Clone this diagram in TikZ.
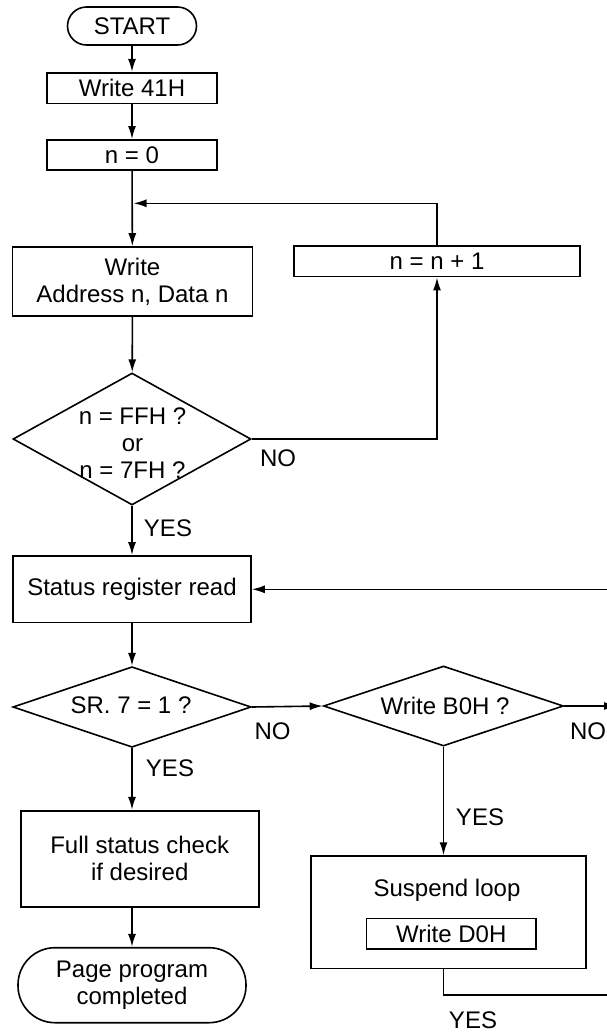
\documentclass[tikz,border=0pt]{standalone}
\usepackage{fontspec}
\setmainfont{Liberation Sans}
\usetikzlibrary{shapes.geometric,arrows.meta}
\begin{document}
\begin{tikzpicture}[x=1pt,y=-1pt,line width=1.6pt,
  every node/.style={font=\fontsize{24}{27}\selectfont},
  box/.style={draw,inner sep=0pt,align=center},
  dia/.style={draw,diamond,inner sep=0pt},
  flow/.style={-{Latex[length=13pt,width=8pt]}},
  lbl/.style={inner sep=0pt}]
\useasboundingbox (0,0) rectangle (606,1034);
% main column
\node[box,rounded corners=19pt,minimum width=129pt,minimum height=38pt] (start) at (132,26) {START};
\node[box,minimum width=170pt,minimum height=30.6pt] (w41) at (132,88) {Write 41H};
\node[box,minimum width=170pt,minimum height=30.3pt] (n0) at (132,155) {n = 0};
\node[box,minimum width=240pt,minimum height=69pt] (wad) at (132.5,281.5) {Write\\Address n, Data n};
\node[box,minimum width=286pt,minimum height=30.7pt] (inc) at (437,261.3) {n = n + 1};
\node[dia,minimum width=238pt,minimum height=132pt] (d1) at (132,439) {};
\node[align=center] (d1t) at (132.5,443) {n = FFH ?\\or\\n = 7FH ?};
\node[box,minimum width=238pt,minimum height=66.7pt] (srr) at (132,589.3) {Status register read};
\node[dia,minimum width=238.3pt,minimum height=80.6pt] (d2) at (132,707) {};
\node (d2t) at (131,705) {SR. 7 = 1 ?};
\node[dia,minimum width=240pt,minimum height=80pt] (d3) at (443.5,706) {};
\node (d3t) at (445,706) {Write B0H ?};
\node[box,minimum width=238pt,minimum height=96pt] (fsc) at (139.7,858.7) {Full status check\\if desired};
\node[box,rounded corners=37pt,minimum width=228pt,minimum height=75pt] (done) at (132,985.2) {Page program\\completed};
\node[box,minimum width=275pt,minimum height=112.3pt] (sus) at (448.5,912.2) {};
\node (sust) at (447,890) {Suspend loop};
\node[box,minimum width=169.3pt,minimum height=30.7pt] (wd0) at (451.3,933.7) {Write D0H};
% coordinates off the right edge and junction
\coordinate (j1) at (133.5,203.3);
\coordinate (e1) at (617,706);
\coordinate (e2) at (612,589.3);
\coordinate (e3) at (612,995);
% connectors
\draw[flow] (start) -- (w41);
\draw[flow] (w41) -- (n0);
\draw[flow] (n0) -- (wad);
\draw[flow] (wad) -- (d1);
\draw[flow] (d1.east) -| (inc.south);
\draw[flow] (inc.north) |- (j1);
\draw[flow] (d1.south) -- (srr.north);
\draw[flow] (srr) -- (d2);
\draw[flow] (d2.south) -- (d2.south |- fsc.north);
\draw[flow] (done.north |- fsc.south) -- (done.north);
\draw[flow] (d2.east) -- (d3.west);
\draw[flow] (d3.east) -- (e1);
\draw[flow] (e2) -- (srr.east);
\draw[flow] (d3.south) -- (d3.south |- sus.north);
\draw (d3.south |- sus.south) |- (e3);
% labels
\node[lbl] at (278,458) {NO};
\node[lbl] at (168,528) {YES};
\node[lbl] at (272.5,731.5) {NO};
\node[lbl] at (170,768) {YES};
\node[lbl] at (588,731.5) {NO};
\node[lbl] at (480,817) {YES};
\node[lbl] at (473,1020) {YES};
\end{tikzpicture}
\end{document}
